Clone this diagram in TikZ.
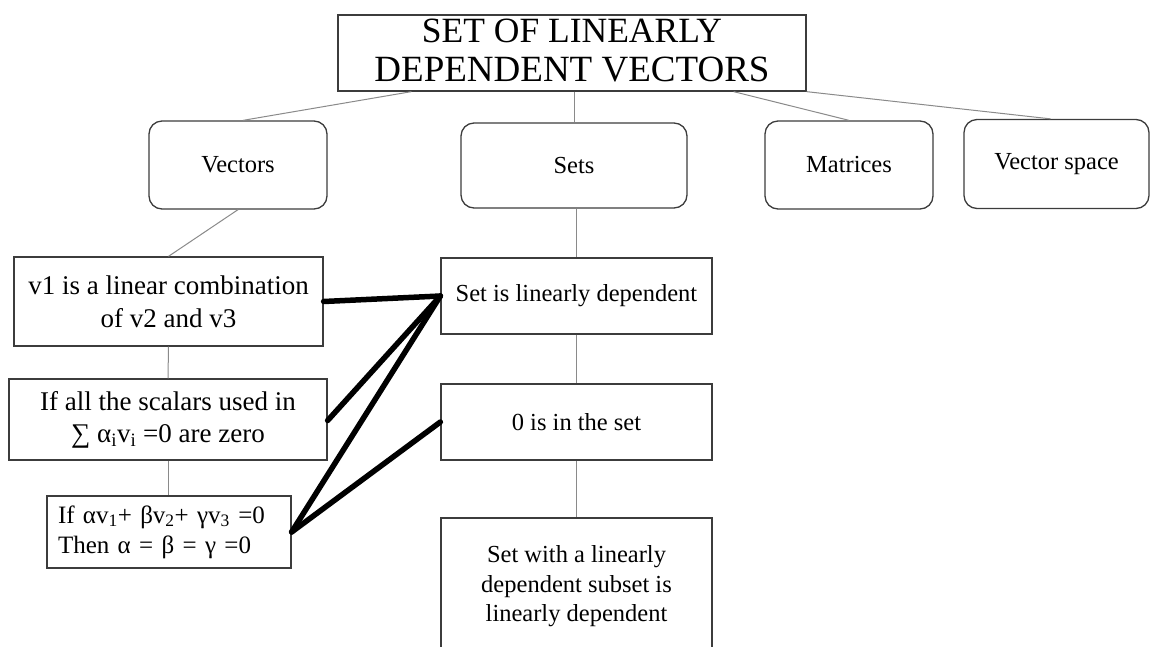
\documentclass[tikz,border=0pt]{standalone}
\usepackage{fontspec}
\setmainfont{Liberation Serif}
\definecolor{boxgray}{HTML}{3C3C3C}
\definecolor{linkgray}{HTML}{8A8A8A}
\begin{document}
\begin{tikzpicture}[x=1pt,y=-1pt,
  box/.style={draw=boxgray, line width=1.3pt, inner sep=0pt, align=center,
              font=\fontsize{24.5}{29.5}\selectfont},
  topic/.style={box, rounded corners=13pt},
  link/.style={draw=linkgray, line width=1pt},
  bold link/.style={draw=black, line width=5.5pt, line cap=round},
]
\useasboundingbox (0,0) rectangle (1151,646);
\clip (0,0) rectangle (1151,646);

% heading: frame and its two-line caption
\node[box, minimum width=468pt, minimum height=76pt] (title) at (572,53) {};
\node[align=center, inner sep=0pt, font=\fontsize{37}{39}\selectfont]
  (titletext) at ([yshift=2pt]title.center)
  {{\fontsize{35.5}{39}\selectfont SET OF LINEARLY}\\DEPENDENT VECTORS};

% topics
\node[topic, minimum width=178pt, minimum height=88pt] (vectors) at (238,165) {Vectors};
\node[topic, minimum width=226pt, minimum height=85pt] (sets) at (574,165.5) {Sets};
\node[topic, minimum width=168pt, minimum height=88pt] (matrices) at (849,165) {Matrices};
\node[topic, minimum width=185pt, minimum height=89pt] (vspace) at (1056.5,164) {Vector space};

% vector statements
\node[box, minimum width=309pt, minimum height=89pt,
      font=\fontsize{27}{33}\selectfont] (v1) at (168.5,301.5)
  {v1 is a linear combination\\of v2 and v3};
\node[box, minimum width=318pt, minimum height=81pt,
      font=\fontsize{27}{32}\selectfont] (ifall) at (168,419.5)
  {If all the scalars used in\\∑ α\textsubscript{i}v\textsubscript{i} =0 are zero};
\node[box, text width=222pt, inner xsep=11pt, minimum height=72pt, align=left,
      font=\fontsize{25}{30}\selectfont] (coef) at (169,532)
  {If αv\textsubscript{1}+ βv\textsubscript{2}+ γv\textsubscript{3} =0\\Then α = β = γ =0};

% set statements
\node[box, minimum width=271pt, minimum height=76pt] (setld) at (576.5,296) {Set is linearly dependent};
\node[box, minimum width=271pt, minimum height=76pt] (zero) at (576.5,422) {0 is in the set};
\node[box, minimum width=271pt, minimum height=137pt] (subset) at (576.5,586.5)
  {Set with a linearly\\dependent subset is\\linearly dependent};

% thin links
\draw[link] ([xshift=74pt]title.south west) -- ([xshift=5pt]vectors.north);
\draw[link] (sets.north |- title.south) -- (sets.north);
\draw[link] ([xshift=-73pt]title.south east) -- (matrices.north);
\draw[link] (title.south east) -- ([xshift=-6pt]vspace.north);
\draw[link] (vectors.south) -- (v1.north);
\draw[link] (v1.south) -- (ifall.north);
\draw[link] (ifall.north |- ifall.south) -- (ifall.north |- coef.north);
\draw[link] (setld.north |- sets.south) -- (setld.north);
\draw[link] (setld.south) -- (zero.north);
\draw[link] (zero.south) -- (subset.north);

% bold links
\draw[bold link] (v1.east) -- (setld.west);
\draw[bold link] ([yshift=-1pt]ifall.east) -- (setld.west);
\draw[bold link] (coef.east) -- (setld.west);
\draw[bold link] (coef.east) -- (zero.west);
\end{tikzpicture}
\end{document}
